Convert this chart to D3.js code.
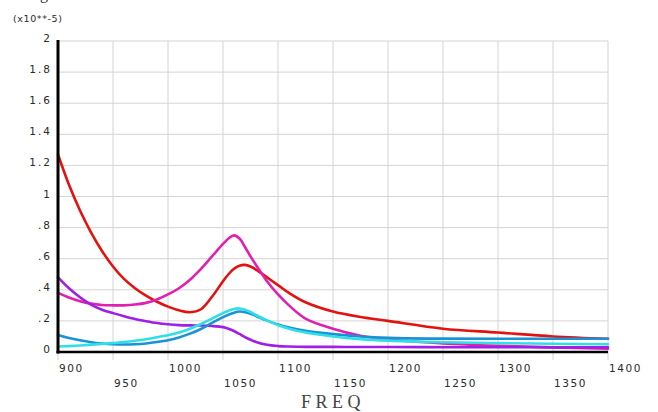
<!DOCTYPE html>
<html>
<head>
<meta charset="utf-8">
<script src="https://cdn.jsdelivr.net/npm/d3@7"></script>
<style>
  html, body { margin: 0; padding: 0; background: #ffffff; }
  svg { display: block; }
</style>
</head>
<body>
<svg id="chart" width="658" height="412"></svg>
<script>
// ---- data ----
const freq = [900, 910, 920, 930, 940, 950, 960, 970, 980, 990, 1000, 1010, 1020, 1030, 1040, 1050, 1055, 1060, 1065, 1070, 1075, 1080, 1090, 1100, 1110, 1125, 1150, 1175, 1200, 1250, 1300, 1350, 1400];
const redSeries     = [1.27, 1.075, 0.91, 0.77, 0.65, 0.55, 0.47, 0.41, 0.362, 0.323, 0.292, 0.268, 0.256, 0.275, 0.355, 0.455, 0.50, 0.535, 0.555, 0.56, 0.55, 0.53, 0.48, 0.43, 0.38, 0.32, 0.26, 0.225, 0.20, 0.15, 0.125, 0.10, 0.085];
const magentaSeries = [0.38, 0.35, 0.327, 0.311, 0.302, 0.30, 0.30, 0.305, 0.316, 0.338, 0.37, 0.41, 0.465, 0.535, 0.615, 0.695, 0.73, 0.75, 0.73, 0.675, 0.615, 0.56, 0.455, 0.37, 0.30, 0.215, 0.15, 0.105, 0.08, 0.055, 0.04, 0.03, 0.022];
const purpleSeries  = [0.48, 0.41, 0.352, 0.305, 0.272, 0.25, 0.23, 0.212, 0.198, 0.186, 0.178, 0.173, 0.171, 0.17, 0.167, 0.16, 0.15, 0.135, 0.116, 0.096, 0.079, 0.065, 0.046, 0.038, 0.035, 0.033, 0.033, 0.032, 0.032, 0.031, 0.031, 0.03, 0.03];
const blueSeries    = [0.11, 0.09, 0.075, 0.063, 0.055, 0.05, 0.048, 0.05, 0.055, 0.064, 0.076, 0.094, 0.118, 0.148, 0.187, 0.224, 0.24, 0.253, 0.26, 0.256, 0.246, 0.232, 0.202, 0.177, 0.157, 0.136, 0.115, 0.10, 0.091, 0.086, 0.085, 0.085, 0.085];
const cyanSeries    = [0.035, 0.038, 0.042, 0.047, 0.052, 0.058, 0.064, 0.072, 0.082, 0.095, 0.108, 0.125, 0.15, 0.18, 0.215, 0.25, 0.265, 0.277, 0.28, 0.272, 0.257, 0.238, 0.203, 0.173, 0.15, 0.125, 0.10, 0.083, 0.073, 0.063, 0.057, 0.053, 0.05];
const seriesNames  = ["red", "magenta", "purple", "blue", "cyan"];
const seriesColors = ["#e3120f", "#e020b0", "#a01ee6", "#1c92d6", "#2ee0e6"];
const xTicks = [900, 950, 1000, 1050, 1100, 1150, 1200, 1250, 1300, 1350, 1400];
const yTicks = [0, 0.2, 0.4, 0.6, 0.8, 1, 1.2, 1.4, 1.6, 1.8, 2];
const yTickLabels = ["0", ".2", ".4", ".6", ".8", "1", "1.2", "1.4", "1.6", "1.8", "2"];
const xTitle = "FREQ";
const yUnit = "(x10**-5)";

const allSeries = [redSeries, magentaSeries, purpleSeries, blueSeries, cyanSeries];

// ---- layout ----
const svg = d3.select("#chart");
const x = d3.scaleLinear().domain([900, 1400]).range([58, 608]);
const y = d3.scaleLinear().domain([0, 2]).range([352, 41]);

// partial title at very top (cut off in reference)
svg.append("text").attr("x", 40).attr("y", -1).attr("font-family", "Liberation Serif")
  .attr("font-size", 16).attr("fill", "#333").text("g");

// grid
const grid = svg.append("g");
grid.selectAll(".hg").data(yTicks).join("line")
  .attr("x1", x(900)).attr("x2", x(1400))
  .attr("y1", d => y(d)).attr("y2", d => y(d))
  .attr("stroke", "#d4d4d4").attr("stroke-width", 1);
grid.selectAll(".vg").data(xTicks).join("line")
  .attr("x1", d => x(d)).attr("x2", d => x(d))
  .attr("y1", y(2)).attr("y2", y(0) + 8)
  .attr("stroke", "#d4d4d4").attr("stroke-width", 1);

// curves
const line = d3.line()
  .x((d, i) => x(freq[i]))
  .y(d => y(d))
  .curve(d3.curveCatmullRom.alpha(0.5));

svg.append("g").selectAll("path").data(allSeries).join("path")
  .attr("d", d => line(d))
  .attr("fill", "none")
  .attr("stroke", (d, i) => seriesColors[i])
  .attr("stroke-width", 2.6)
  .attr("stroke-linejoin", "round")
  .attr("stroke-linecap", "round");

// axes lines
svg.append("line").attr("x1", x(900)).attr("x2", x(900)).attr("y1", y(2) - 1).attr("y2", y(0) + 1.5)
  .attr("stroke", "#000").attr("stroke-width", 3);
svg.append("line").attr("x1", x(900) - 1.5).attr("x2", x(1400)).attr("y1", y(0)).attr("y2", y(0))
  .attr("stroke", "#000").attr("stroke-width", 2.5);

// y tick labels
svg.append("g").selectAll("text").data(yTicks).join("text")
  .attr("x", 50 + 2)
  .attr("y", d => y(d) + 1)
  .attr("text-anchor", "end")
  .attr("font-family", "DejaVu Sans")
  .attr("font-size", 10.5)
  .attr("letter-spacing", 2)
  .attr("fill", "#2a2a2a")
  .text((d, i) => yTickLabels[i]);

// x tick labels (alternating rows, left aligned at tick)
svg.append("g").selectAll("text").data(xTicks).join("text")
  .attr("x", d => x(d) + 1)
  .attr("y", (d, i) => i % 2 === 0 ? 372 : 387)
  .attr("text-anchor", "start")
  .attr("font-family", "DejaVu Sans")
  .attr("font-size", 10.5)
  .attr("letter-spacing", 1.6)
  .attr("fill", "#2a2a2a")
  .text(d => d);

// unit label
svg.append("text").attr("x", 13).attr("y", 22)
  .attr("font-family", "DejaVu Sans").attr("font-size", 9.5)
  .attr("letter-spacing", 0.6).attr("fill", "#2a2a2a").text(yUnit);

// x title
svg.append("text").attr("x", 301).attr("y", 408)
  .attr("font-family", "Liberation Serif").attr("font-size", 18)
  .attr("letter-spacing", 4.5).attr("fill", "#444").text(xTitle);
</script>
</body>
</html>
